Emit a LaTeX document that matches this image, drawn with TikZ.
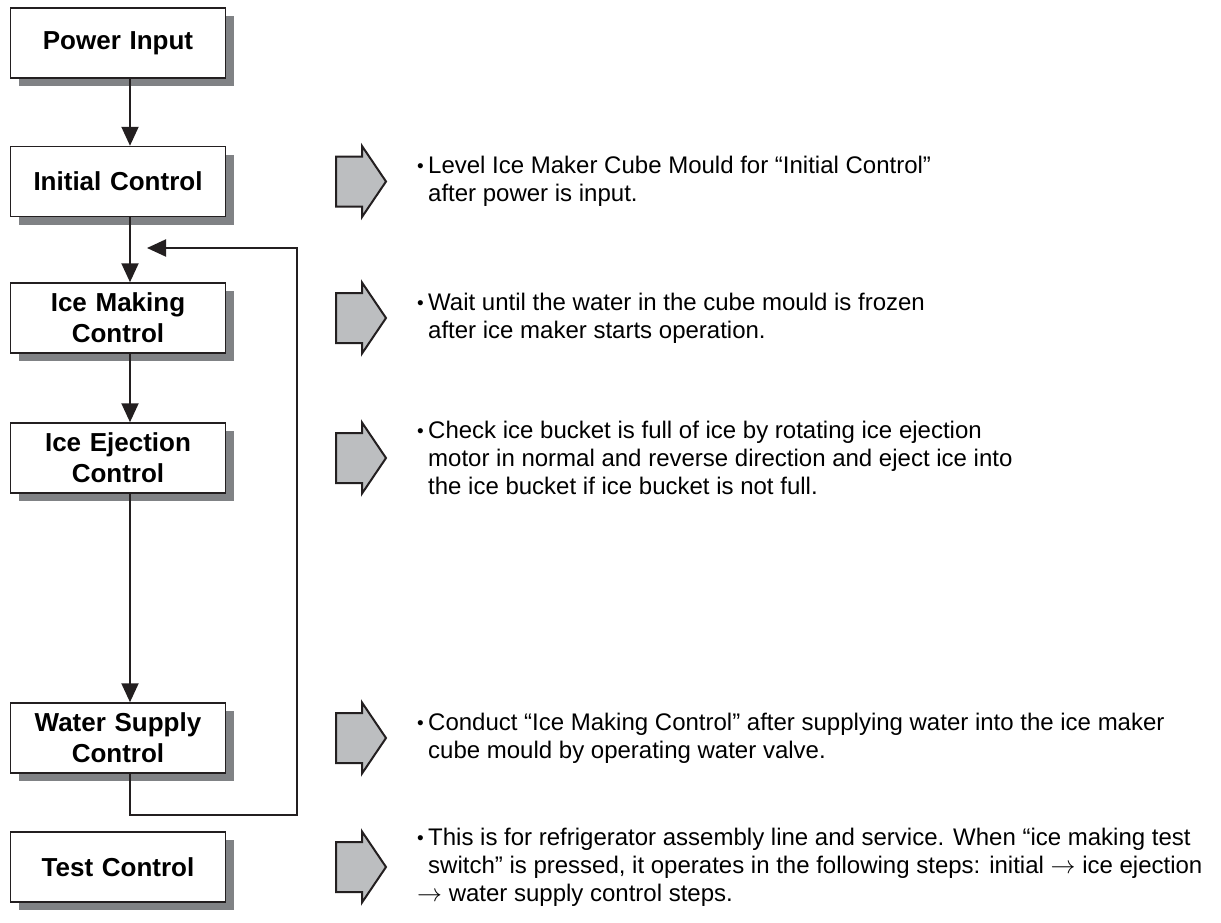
\documentclass[tikz,border=0pt]{standalone}
\usepackage{fontspec}
\setmainfont{Liberation Sans}
\usetikzlibrary{arrows.meta,shadows}

\definecolor{linegray}{HTML}{231F20}
\definecolor{shadowgray}{HTML}{808285}
\definecolor{pointergray}{HTML}{BCBEC0}

% bullet, hanging indent and arrow for the notes
\newcommand{\bul}{\makebox[11pt][l]{\raisebox{1pt}{\fontsize{19}{19}\selectfont\textbullet}}}
\newcommand{\ind}{\hspace*{11pt}}
\newcommand{\nxt}{$\rightarrow$}

\begin{document}
\begin{tikzpicture}[x=1pt,y=-1pt,
    stage/.style={draw=linegray, line width=1.5pt, fill=white,
      minimum width=215pt, minimum height=70pt, inner sep=0pt,
      text width=205pt, align=center,
      font=\fontsize{26}{31}\selectfont\bfseries,
      drop shadow={shadow xshift=8pt, shadow yshift=-8pt, fill=shadowgray, opacity=1}},
    flow/.style={draw=linegray, line width=2pt, -{Triangle[length=19pt,width=17pt]}},
    pointer/.style={draw=linegray, line width=2pt, fill=pointergray, line join=miter},
    note/.style={anchor=west, align=left, inner sep=0pt,
      font=\fontsize{24}{28}\selectfont}]

    \useasboundingbox (0,0) rectangle (1221,922);

    % Control stages
    \node[stage] (pi) at (118,43) {Power Input};
    \node[stage] (ic) at (118,181.5) {Initial Control};
    \node[stage] (im) at (118,318) {Ice Making\\Control};
    \node[stage] (ie) at (118,458) {Ice Ejection\\Control};
    \node[stage] (ws) at (118,738) {Water Supply\\Control};
    \node[stage] (tc) at (118,867) {Test Control};

    % Flow between stages
    \coordinate (cx) at (130,0);
    \coordinate (rt) at (297,815);
    \coordinate (back) at (147,248);
    \draw[flow] (pi.south -| cx) -- (ic.north -| cx);
    \draw[flow] (ic.south -| cx) -- (im.north -| cx);
    \draw[flow] (im.south -| cx) -- (ie.north -| cx);
    \draw[flow] (ie.south -| cx) -- (ws.north -| cx);
    \draw[flow] (ws.south -| cx) |- (rt) |- (back);

    % Pointers to the notes
    \coordinate (ptr) at (336,0);
    \foreach \n in {ic,im,ie,ws,tc}
      \draw[pointer] (\n -| ptr) ++(0,-25) -- ++(26,0) -- ++(0,-10.5)
        -- ++(24,35.5) -- ++(-24,35.5) -- ++(0,-10.5) -- ++(-26,0) -- cycle;

    % Notes
    \coordinate (txt) at (417,0);
    \node[note] (nic) at (ic -| txt) {\bul Level Ice Maker Cube Mould for “Initial Control”\\
      \ind after power is input.};
    \node[note] (nim) at (im -| txt) {\bul Wait until the water in the cube mould is frozen\\
      \ind after ice maker starts operation.};
    \node[note] (nie) at (ie -| txt) {\bul Check ice bucket is full of ice by rotating ice ejection\\
      \ind motor in normal and reverse direction and eject ice into\\
      \ind the ice bucket if ice bucket is not full.};
    \node[note] (nws) at (ws -| txt) {\bul Conduct “Ice Making Control” after supplying water into the ice maker\\
      \ind cube mould by operating water valve.};
    \node[note] (ntc) at (tc -| txt) {\bul This is for refrigerator assembly line and service. When “ice making test\\
      \ind switch” is pressed, it operates in the following steps: initial \nxt{} ice ejection\\
      \nxt{} water supply control steps.};

\end{tikzpicture}
\end{document}
